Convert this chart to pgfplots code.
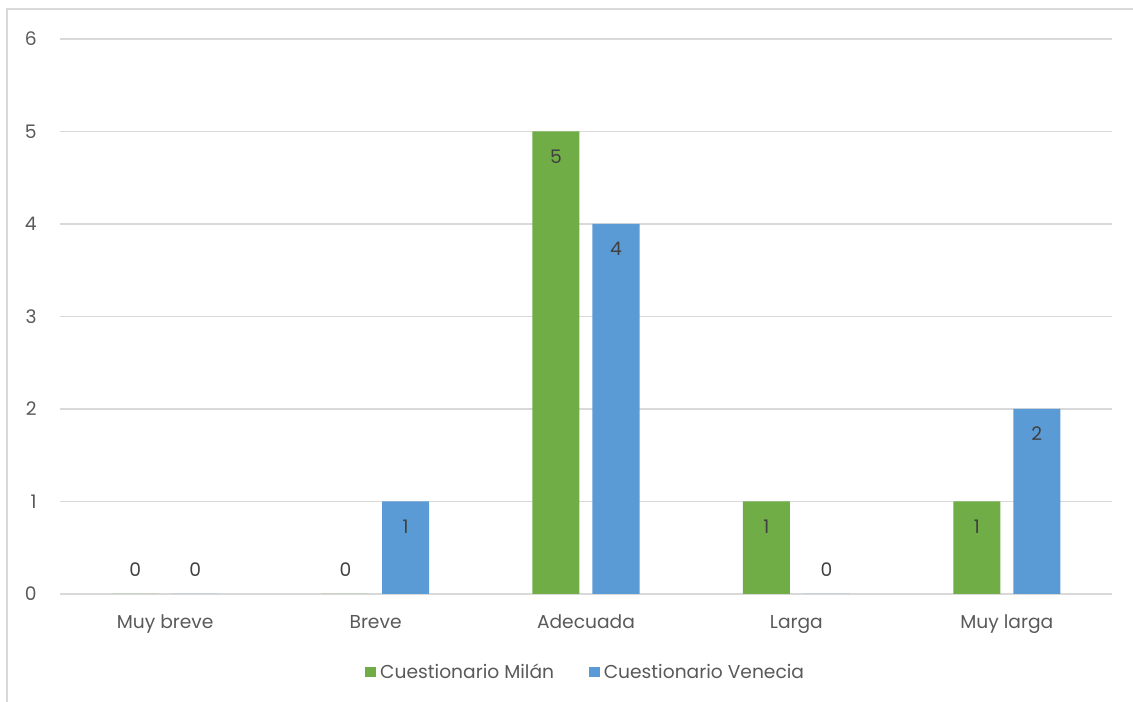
\documentclass[border=0pt]{standalone}
\usepackage{pgfplots}
\pgfplotsset{compat=1.18}
\usepackage{fontspec}
\setmainfont{Poppins}
\definecolor{cgreen}{HTML}{70AD47}
\definecolor{cblue}{HTML}{5B9BD5}
\definecolor{ctext}{HTML}{595959}
\definecolor{cgrid}{HTML}{D9D9D9}
\begin{document}
\begin{tikzpicture}[x=1pt,y=1pt]
\path[use as bounding box] (0,0) rectangle (849.75,526.5);
\draw[cgrid,line width=1.2pt] (5.25,0) -- (5.25,519.75) -- (849.75,519.75);
\begin{axis}[
  at={(45pt,81pt)}, anchor=south west,
  scale only axis, width=789pt, height=416.25pt,
  ybar, bar width=35.25pt,
  xmin=-0.5, xmax=4.5, ymin=0, ymax=6,
  xtick={0,1,2,3,4},
  xticklabels={Muy breve, Breve, Adecuada, Larga, Muy larga},
  ytick={0,1,2,3,4,5,6},
  axis line style={draw=none},
  major tick length=0pt,
  ymajorgrids, grid style={cgrid, line width=1pt},
  tick label style={text=ctext, font=\fontsize{14}{16}\selectfont},
  /pgf/number format/assume math mode=true,
  yticklabel style={anchor=east, xshift=-14pt},
  xticklabel style={anchor=base, yshift=-26pt},
  visualization depends on={rawy \as \rawy},
  nodes near coords,
  every node near coord/.append style={anchor=center, text=black!75, font=\fontsize{14}{16}\selectfont, yshift={\rawy>0 ? -18.75pt : 18pt}},
  legend style={draw=none, at={(0.5,-0.1405)}, anchor=center, legend columns=2, font=\fontsize{14}{16}\selectfont, text=ctext, /tikz/every even column/.append style={column sep=24pt}, /tikz/every odd column/.append style={column sep=1pt}},
  legend image code/.code={\fill[#1] (0pt,-4.1pt) rectangle (8.25pt,4.1pt);},
]
\addplot[fill=cgreen, draw=none, bar shift=-22.5pt] coordinates {(0,0) (1,0) (2,5) (3,1) (4,1)};
\addplot[fill=cblue, draw=none, bar shift=22.5pt] coordinates {(0,0) (1,1) (2,4) (3,0) (4,2)};
\legend{Cuestionario Milán, Cuestionario Venecia}
\end{axis}
\end{tikzpicture}
\end{document}
